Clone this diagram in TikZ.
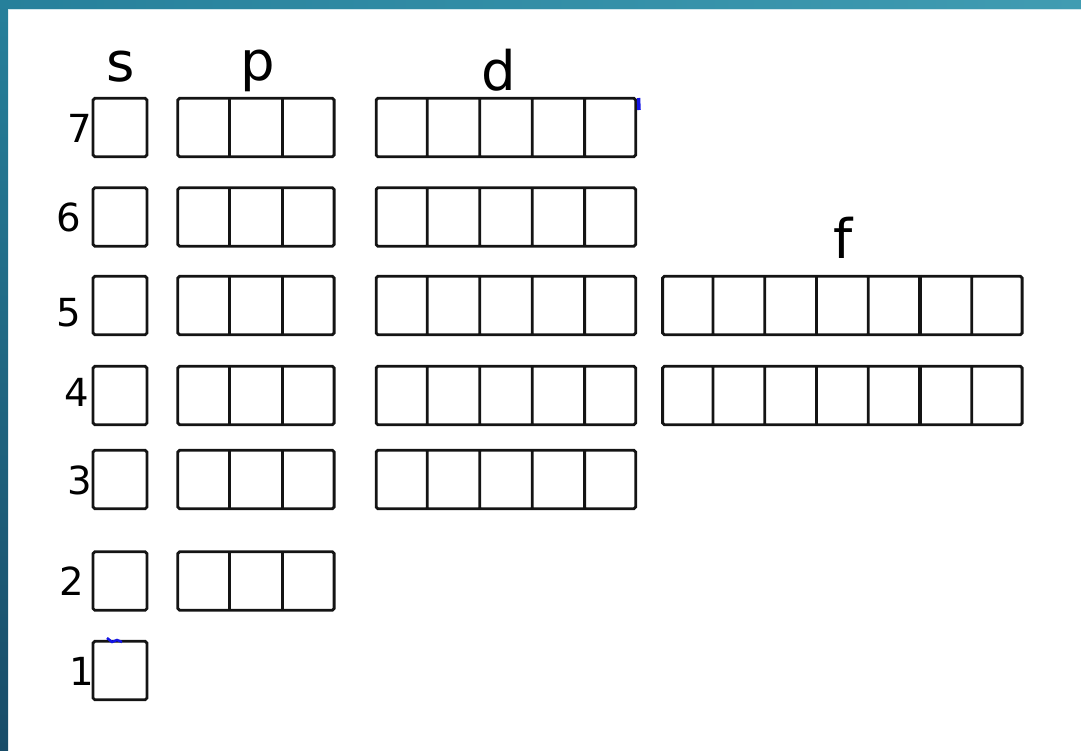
\documentclass[tikz,border=0pt]{standalone}
\usepackage{fontspec}
\setmainfont{DejaVu Sans}
\usepackage{xcolor}
\usepackage{tikz}
\usetikzlibrary{positioning,shapes.multipart}
\definecolor{fTeal}{RGB}{64,156,178}
\definecolor{fTealD}{RGB}{38,128,155}
\definecolor{fNavy}{RGB}{24,76,104}
\definecolor{oLine}{RGB}{20,20,20}
\definecolor{oMark}{RGB}{20,20,230}
\tikzset{
  orb/.style={rectangle, rounded corners=1pt, draw=oLine, line width=1.6pt,
              fill=white, inner sep=0pt, text width=0.99cm, minimum height=1.17cm},
  sorb/.style={orb, text width=1.08cm},
  porb/.style={orb, rectangle split, rectangle split horizontal,
               rectangle split parts=3, text width=1.005cm},
  dorb/.style={orb, rectangle split, rectangle split horizontal,
               rectangle split parts=5, text width=0.993cm},
  forb/.style={orb, rectangle split, rectangle split horizontal,
               rectangle split parts=7, text width=0.979cm},
  sub/.style={font=\fontsize{31}{36}\selectfont, inner sep=0pt},
  lvl/.style={font=\fontsize{22}{26}\selectfont, inner sep=0pt},
}

\begin{document}
\begin{tikzpicture}[x=0.02cm, y=-0.02cm, node distance=2cm, on grid]
  \useasboundingbox (0,0) rectangle (1081,750);
  % --- frame ---
  \shade[left color=fTealD, right color=fTeal] (0,0) rectangle (1081,9);
  \shade[top color=fTealD, bottom color=fNavy] (0,0) rectangle (8,750);
  \draw[fTeal!25, line width=0.6pt] (8,9.5) -- (1081,9.5);

  % --- s column ---
  \node[sorb] at (120,127.5) (s7) {};
  \node[sorb] at (120,217)   (s6) {};
  \node[sorb] at (120,305.5) (s5) {};
  \node[sorb] at (120,395.5) (s4) {};
  \node[sorb] at (120,479.5) (s3) {};
  \node[sorb] at (120,581)   (s2) {};
  \node[sorb] at (120,670.5) (s1) {};

  % --- p column ---
  \node[porb,right=2.72cm of s7] (p7) {\nodepart{two}\nodepart{three}};
  \node[porb,right=2.72cm of s6] (p6) {\nodepart{two}\nodepart{three}};
  \node[porb,right=2.72cm of s5] (p5) {\nodepart{two}\nodepart{three}};
  \node[porb,right=2.72cm of s4] (p4) {\nodepart{two}\nodepart{three}};
  \node[porb,right=2.72cm of s3] (p3) {\nodepart{two}\nodepart{three}};
  \node[porb,right=2.72cm of s2] (p2) {\nodepart{two}\nodepart{three}};

  % --- d column ---
  \node[dorb,right=5cm of p7] (d7) {\nodepart{two}\nodepart{three}\nodepart{four}\nodepart{five}};
  \node[dorb,right=5cm of p6] (d6) {\nodepart{two}\nodepart{three}\nodepart{four}\nodepart{five}};
  \node[dorb,right=5cm of p5] (d5) {\nodepart{two}\nodepart{three}\nodepart{four}\nodepart{five}};
  \node[dorb,right=5cm of p4] (d4) {\nodepart{two}\nodepart{three}\nodepart{four}\nodepart{five}};
  \node[dorb,right=5cm of p3] (d3) {\nodepart{two}\nodepart{three}\nodepart{four}\nodepart{five}};

  % --- f column ---
  \node[forb,right=6.73cm of d5] (f5) {\nodepart{two}\nodepart{three}\nodepart{four}\nodepart{five}\nodepart{six}\nodepart{seven}};
  \node[forb,right=6.73cm of d4] (f4) {\nodepart{two}\nodepart{three}\nodepart{four}\nodepart{five}\nodepart{six}\nodepart{seven}};
  \draw[oLine, line width=2.4pt] (f5.five split north) -- (f5.five split south);
  \draw[oLine, line width=2.4pt] (f4.five split north) -- (f4.five split south);

  % --- subshell letters ---
  \node[sub] at (121,67) (ls) {s};
  \node[sub] at (258,71) (lp) {p};
  \node[sub] at (499,70) (ld) {d};
  \node[sub] at (843,238) (lf) {f};

  % --- shell numbers ---
  \node[lvl] at (80,128)  (n7) {7};
  \node[lvl] at (69,217)  (n6) {6};
  \node[lvl] at (69,313)  (n5) {5};
  \node[lvl] at (77,392)  (n4) {4};
  \node[lvl] at (80,480)  (n3) {3};
  \node[lvl] at (72,581)  (n2) {2};
  \node[lvl] at (82,671)  (n1) {1};

  % stray pen marks
  \draw[oMark, line width=2pt] (638.5,98) -- (639,110);
  \draw[oMark, line width=1.4pt] (107,638) -- (112,642) -- (117,640) -- (122,642);
\end{tikzpicture}
\end{document}
